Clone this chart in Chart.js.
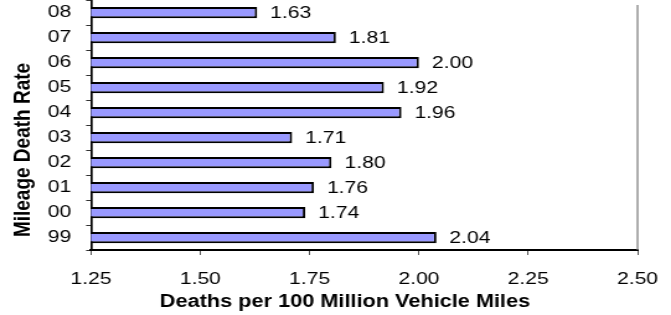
<!DOCTYPE html>
<html>
<head>
<meta charset="utf-8">
<script src="https://cdn.jsdelivr.net/npm/chart.js@4/dist/chart.umd.min.js"></script>
<style>
html,body{margin:0;padding:0;background:#fff;}
#wrap{width:671px;height:315px;position:relative;overflow:hidden;}
#c{display:block;width:671px;height:315px;}
</style>
</head>
<body>
<div id="wrap"><canvas id="c" width="541" height="315" style="width:671px;height:315px"></canvas></div>
<script>
const categories = ['99','00','01','02','03','04','05','06','07','08'];
const rates = [2.04, 1.74, 1.76, 1.80, 1.71, 1.96, 1.92, 2.00, 1.81, 1.63];
const xTicks = [1.25, 1.50, 1.75, 2.00, 2.25, 2.50];
const xTitle = 'Deaths per 100 Million Vehicle Miles';
const yTitle = 'Mileage Death Rate';

const FONT = '"Liberation Sans", Arial, sans-serif';
// the original chart is stretched horizontally; canvas is drawn at 541px and displayed at 671px
const SX = 671 / 541;

const extras = {
  id: 'extras',
  afterDatasetsDraw(chart) {
    const ctx = chart.ctx;
    const area = chart.chartArea;
    ctx.save();
    // right plot border
    ctx.strokeStyle = '#808080';
    ctx.lineWidth = 1.3;
    ctx.beginPath();
    ctx.moveTo(area.right, area.top + 5);
    ctx.lineTo(area.right, area.bottom);
    ctx.stroke();
    // value labels
    const meta = chart.getDatasetMeta(0);
    ctx.fillStyle = '#000';
    ctx.font = '17px ' + FONT;
    ctx.textBaseline = 'middle';
    ctx.textAlign = 'left';
    meta.data.forEach((bar, i) => {
      ctx.fillText(rates[i].toFixed(2), bar.x + 10.5, bar.y + 1);
    });
    // axis titles
    ctx.font = 'bold 17.5px ' + FONT;
    ctx.textAlign = 'center';
    ctx.fillText(xTitle, 345 / SX, 302);
    ctx.save();
    ctx.translate(23 / SX, 150);
    ctx.rotate(-Math.PI / 2);
    ctx.font = 'bold 19px ' + FONT;
    ctx.fillText(yTitle, 0, 0);
    ctx.restore();
    ctx.restore();
  }
};

new Chart(document.getElementById('c'), {
  type: 'bar',
  data: {
    labels: categories,
    datasets: [{
      data: rates,
      backgroundColor: '#9999FF',
      borderColor: '#000000',
      borderWidth: 2,
      borderSkipped: false,
      categoryPercentage: 0.45,
      barPercentage: 1.0
    }]
  },
  options: {
    indexAxis: 'y',
    responsive: false,
    maintainAspectRatio: false,
    animation: false,
    devicePixelRatio: 1,
    layout: { padding: { top: 0, right: 27, left: 0, bottom: 0 } },
    plugins: { legend: { display: false }, tooltip: { enabled: false } },
    scales: {
      x: {
        type: 'linear',
        min: xTicks[0],
        max: xTicks[xTicks.length - 1],
        afterBuildTicks(axis) { axis.ticks = xTicks.map(v => ({ value: v })); },
        afterFit(axis) { axis.height = 65; axis.paddingLeft = 0; axis.paddingRight = 0; },
        ticks: {
          color: '#000',
          font: { family: FONT, size: 17 },
          padding: 14,
          maxRotation: 0,
          autoSkip: false,
          callback: v => Number(v).toFixed(2)
        },
        grid: { drawOnChartArea: false, drawTicks: true, tickLength: 5, color: '#555', lineWidth: 1 },
        border: { display: true, color: '#000', width: 2 }
      },
      y: {
        reverse: true,
        afterFit(axis) { axis.width = 73.4; axis.paddingTop = 0; axis.paddingBottom = 0; },
        ticks: {
          color: '#000',
          font: { family: FONT, size: 17 },
          padding: 12
        },
        grid: { offset: true, drawOnChartArea: false, drawTicks: true, tickLength: 4, color: '#333', lineWidth: 1 },
        border: { display: true, color: '#000', width: 1.7 }
      }
    }
  },
  plugins: [extras]
});
</script>
</body>
</html>
